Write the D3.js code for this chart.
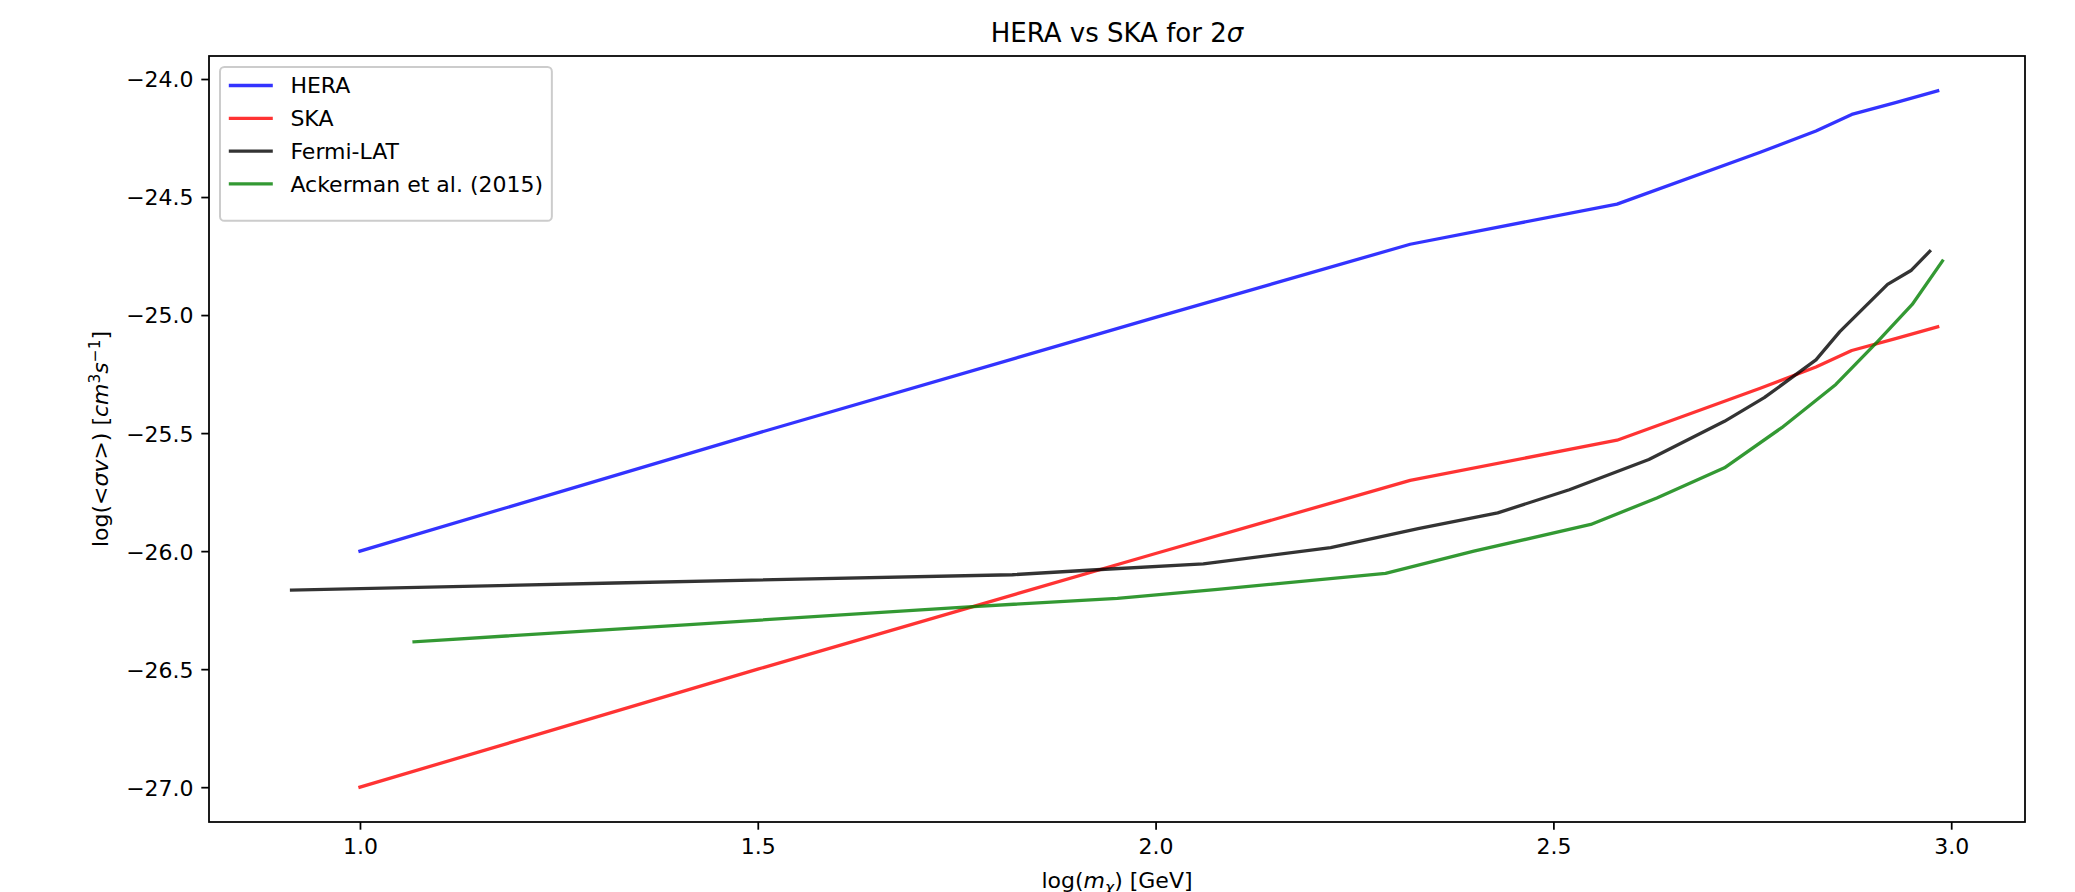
<!DOCTYPE html>
<html>
<head>
<meta charset="utf-8">
<script src="https://cdn.jsdelivr.net/npm/d3@7"></script>
<style>
  html, body { margin: 0; padding: 0; background: #fff; }
  svg text { font-family: "DejaVu Sans", sans-serif; fill: #000; }
</style>
</head>
<body>
<div id="chart"></div>
<script>
// data (log10 of mass in GeV vs log10 of <sigma v>)
const heraX = [1.0, 1.5, 2.0, 2.32, 2.58, 2.76, 2.83, 2.875, 2.93, 2.983];
const heraY = [-26.0, -25.5, -25.01, -24.70, -24.53, -24.31, -24.22, -24.15, -24.10, -24.05];

const skaX = [1.0, 1.5, 2.0, 2.32, 2.58, 2.76, 2.83, 2.875, 2.93, 2.983];
const skaY = [-27.0, -26.5, -26.01, -25.70, -25.53, -25.31, -25.22, -25.15, -25.10, -25.05];

const fermiX = [0.914, 1.32, 1.82, 1.92, 2.06, 2.22, 2.33, 2.43, 2.52, 2.62, 2.715, 2.765, 2.83, 2.86, 2.92, 2.95, 2.973];
const fermiY = [-26.165, -26.135, -26.10, -26.08, -26.054, -25.985, -25.905, -25.838, -25.74, -25.612, -25.45, -25.35, -25.19, -25.07, -24.87, -24.81, -24.73];

const ackX = [1.068, 1.414, 1.76, 1.952, 2.078, 2.289, 2.40, 2.547, 2.63, 2.715, 2.787, 2.855, 2.908, 2.951, 2.989];
const ackY = [-26.384, -26.311, -26.237, -26.20, -26.162, -26.094, -26.0, -25.887, -25.775, -25.647, -25.477, -25.294, -25.11, -24.955, -24.771];

const seriesNames = ["HERA", "SKA", "Fermi-LAT", "Ackerman et al. (2015)"];
const seriesColors = ["#0000ff", "#ff0000", "#000000", "#008000"];

const xTicks = [1.0, 1.5, 2.0, 2.5, 3.0];
const yTicks = [-27.0, -26.5, -26.0, -25.5, -25.0, -24.5, -24.0];

// figure geometry
const width = 2075;
const height = 892;
const margin = {left: 209, top: 56, right: 50, bottom: 70};
const plotW = width - margin.left - margin.right;
const plotH = height - margin.top - margin.bottom;
const fs = 22;      // tick / legend font size
const tickLen = 7.7;

const series = [
  {xs: heraX, ys: heraY},
  {xs: skaX, ys: skaY},
  {xs: fermiX, ys: fermiY},
  {xs: ackX, ys: ackY}
].map((s, i) => ({
  name: seriesNames[i],
  color: seriesColors[i],
  points: s.xs.map((x, j) => [x, s.ys[j]])
}));

// matplotlib style 5% margins around the data
const allX = series.flatMap(s => s.points.map(p => p[0]));
const allY = series.flatMap(s => s.points.map(p => p[1]));
const [x0, x1] = d3.extent(allX);
const [y0, y1] = d3.extent(allY);
const padX = (x1 - x0) * 0.05, padY = (y1 - y0) * 0.05;

const x = d3.scaleLinear().domain([x0 - padX, x1 + padX]).range([0, plotW]);
const y = d3.scaleLinear().domain([y0 - padY, y1 + padY]).range([plotH, 0]);

const svg = d3.select("#chart")
  .append("svg")
    .attr("width", width)
    .attr("height", height);

const g = svg.append("g")
    .attr("transform", `translate(${margin.left},${margin.top})`);

// lines
const line = d3.line()
    .x(d => x(d[0]))
    .y(d => y(d[1]));

g.selectAll("path.series")
  .data(series)
  .join("path")
    .attr("class", "series")
    .attr("fill", "none")
    .attr("stroke", d => d.color)
    .attr("stroke-opacity", 0.8)
    .attr("stroke-width", 3.3)
    .attr("stroke-linejoin", "round")
    .attr("stroke-linecap", "square")
    .attr("d", d => line(d.points));

// axes
const fmt = d3.format(".1f");

const xAxis = g.append("g")
    .attr("transform", `translate(0,${plotH})`)
    .call(d3.axisBottom(x).tickValues(xTicks).tickFormat(fmt)
      .tickSize(tickLen).tickSizeOuter(0).tickPadding(8.2));

const yAxis = g.append("g")
    .call(d3.axisLeft(y).tickValues(yTicks).tickFormat(fmt)
      .tickSize(tickLen).tickSizeOuter(0).tickPadding(7.7));

[xAxis, yAxis].forEach(a => {
  a.select(".domain").remove();
  a.selectAll("line").attr("stroke", "#000").attr("stroke-width", 1.76);
  a.selectAll("text")
    .attr("font-family", "DejaVu Sans")
    .attr("font-size", fs)
    .attr("fill", "#000");
});
yAxis.selectAll("text").attr("dy", "0.36em");

// frame
g.append("rect")
    .attr("x", 0)
    .attr("y", 0)
    .attr("width", plotW)
    .attr("height", plotH)
    .attr("fill", "none")
    .attr("stroke", "#000")
    .attr("stroke-width", 1.76);

// title
const title = svg.append("text")
    .attr("x", margin.left + plotW / 2)
    .attr("y", 41.5)
    .attr("text-anchor", "middle")
    .attr("font-size", 26);
title.append("tspan").text("HERA vs SKA for 2");
title.append("tspan").attr("font-style", "italic").text("σ");

// x label
const xl = svg.append("text")
    .attr("x", margin.left + plotW / 2)
    .attr("y", 888)
    .attr("text-anchor", "middle")
    .attr("font-size", fs);
xl.append("tspan").text("log(");
xl.append("tspan").attr("font-style", "italic").text("m");
xl.append("tspan").attr("font-style", "italic").attr("font-size", fs * 0.7).attr("dy", 5).text("χ");
xl.append("tspan").attr("dy", -5).text(") [GeV]");

// y label
const yl = svg.append("text")
    .attr("transform", `translate(108,${margin.top + plotH / 2}) rotate(-90)`)
    .attr("text-anchor", "middle")
    .attr("font-size", fs);
yl.append("tspan").text("log(<");
yl.append("tspan").attr("font-style", "italic").text("σv");
yl.append("tspan").text(">) [");
yl.append("tspan").attr("font-style", "italic").text("cm");
yl.append("tspan").attr("font-size", fs * 0.7).attr("dy", -8).text("3");
yl.append("tspan").attr("font-style", "italic").attr("dy", 8).text("s");
yl.append("tspan").attr("font-size", fs * 0.7).attr("dy", -8).text("−1");
yl.append("tspan").attr("dy", 8).text("]");

// legend
const legend = g.append("g")
    .attr("transform", `translate(${0.5 * fs},${0.5 * fs})`);

const legBox = legend.append("rect")
    .attr("fill", "#fff")
    .attr("fill-opacity", 0.8)
    .attr("stroke", "#cccccc")
    .attr("stroke-width", 2)
    .attr("rx", 4.4);

const rowH = 32.8;
const rows = legend.selectAll("g.row")
  .data(series)
  .join("g")
    .attr("class", "row")
    .attr("transform", (d, i) => `translate(${0.4 * fs},${18.5 + i * rowH})`);

rows.append("line")
    .attr("x1", 0)
    .attr("x2", 2 * fs)
    .attr("stroke", d => d.color)
    .attr("stroke-opacity", 0.8)
    .attr("stroke-width", 3.3);

rows.append("text")
    .attr("x", 2.8 * fs)
    .attr("dy", "0.36em")
    .attr("font-size", fs)
    .text(d => d.name);

const textW = d3.max(rows.selectAll("text").nodes(), n => n.getComputedTextLength());
legBox
    .attr("width", 0.4 * fs + 2.8 * fs + textW + 0.4 * fs)
    .attr("height", 0.8 * fs + 4 * rowH + 5);
</script>
</body>
</html>
